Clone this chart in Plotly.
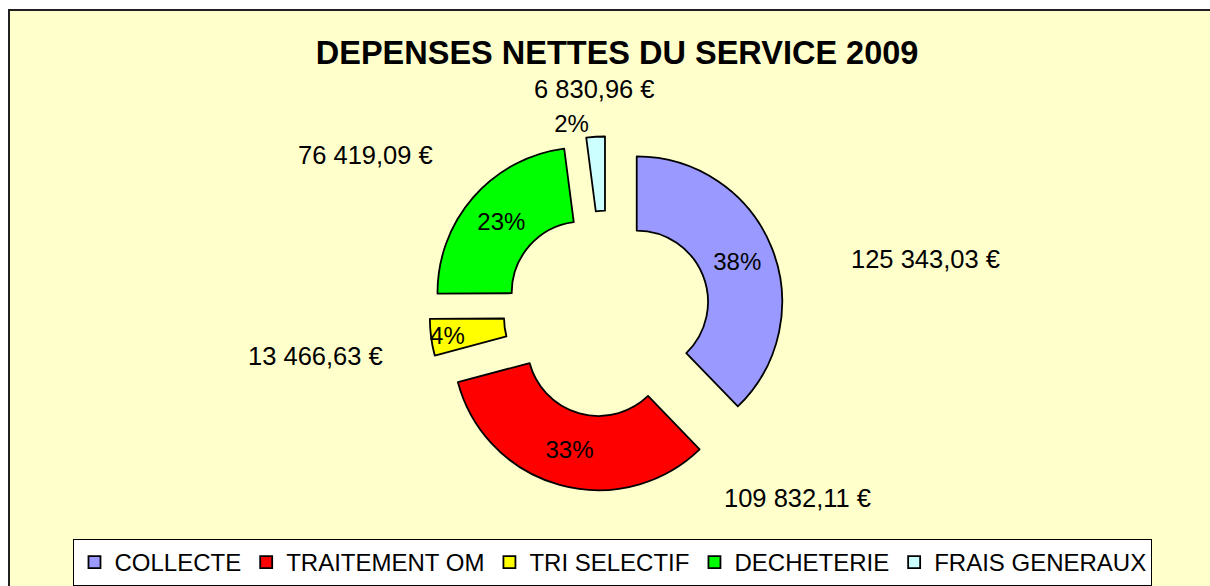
import plotly.graph_objects as go

# ---- data ----
categories = ["COLLECTE", "TRAITEMENT OM", "TRI SELECTIF", "DECHETERIE", "FRAIS GENERAUX"]
values = [125343.03, 109832.11, 13466.63, 76419.09, 6830.96]
colors = ["#9999FF", "#FF0000", "#FFFF00", "#00FF00", "#CCFFFF"]
title_text = "DEPENSES NETTES DU SERVICE 2009"

# layout positions (paper coords) of the value call-outs, as placed on the original chart
label_x = [0.765, 0.659, 0.261, 0.302, 0.491]
label_y = [0.556, 0.147, 0.391, 0.734, 0.848]

W, H = 1210, 586
FONT = "Liberation Sans, Arial, sans-serif"


def fmt_eur(v):
    s = f"{v:,.2f}".replace(",", " ").replace(".", ",")
    return s + " €"


fig = go.Figure()
fig.add_trace(go.Pie(
    labels=categories,
    values=values,
    sort=False,
    direction="clockwise",
    rotation=0,
    hole=0.49,
    pull=[0.22] * len(values),
    marker=dict(colors=colors, line=dict(color="black", width=1.8)),
    texttemplate="%{percent:.0%}",
    textposition=["inside", "inside", "inside", "inside", "outside"],
    insidetextorientation="horizontal",
    textfont=dict(family=FONT, size=24, color="black"),
    outsidetextfont=dict(family=FONT, size=24, color="black"),
    domain=dict(x=[0.3545, 0.6489], y=[0.1586, 0.7664]),
    showlegend=True,
))

annotations = [
    dict(x=lx, y=ly, xref="paper", yref="paper", text=fmt_eur(v), showarrow=False,
         xanchor="center", yanchor="middle", font=dict(family=FONT, size=25.5, color="black"))
    for lx, ly, v in zip(label_x, label_y, values)
]

fig.update_layout(
    width=W, height=H,
    margin=dict(l=0, r=0, t=0, b=0),
    paper_bgcolor="white",
    plot_bgcolor="#FFFFCC",
    title=dict(text=f"<b>{title_text}</b>", x=0.51, y=0.911, xanchor="center", yanchor="middle",
               font=dict(family=FONT, size=32.5, color="black")),
    shapes=[dict(type="rect", xref="paper", yref="paper", x0=9 / W, x1=1.2, y0=-0.2, y1=1 - 10 / H,
                 fillcolor="#FFFFCC", line=dict(color="#202020", width=2), layer="below")],
    annotations=annotations,
    uniformtext=dict(minsize=24, mode="show"),
    legend=dict(orientation="h", x=0.5066, xanchor="center", y=1 - 541 / H, yanchor="top",
                bgcolor="white", bordercolor="black", borderwidth=1,
                font=dict(family=FONT, size=24, color="black"), traceorder="normal"),
)

fig.write_html("out.html",
               config={"displayModeBar": False},
               post_script="document.body.style.margin='0';document.body.style.overflow='hidden';")
